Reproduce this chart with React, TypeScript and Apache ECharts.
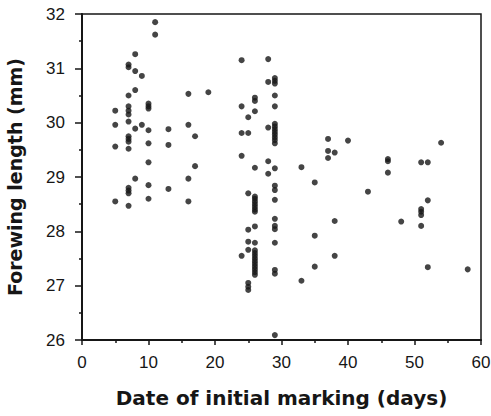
import React, { useEffect, useRef } from "react";
import * as echarts from "echarts";

const days: number[] = [
  5, 5, 5, 5,
  7, 7, 7, 7, 7, 7, 7, 7, 7, 7, 7, 7, 7, 7, 7,
  8, 8, 8, 8, 8,
  9, 9,
  10, 10, 10, 10, 10, 10, 10, 10,
  11, 11,
  13, 13, 13,
  16, 16, 16, 16,
  17, 17,
  19,
  24, 24, 24, 24, 24,
  25, 25, 25, 25, 25, 25, 25, 25, 25,
  26, 26, 26, 26, 26, 26, 26, 26, 26, 26, 26, 26, 26, 26, 26, 26, 26, 26, 26, 26, 26, 26, 26,
  28, 28, 28, 28, 28,
  29, 29, 29, 29, 29, 29, 29, 29, 29, 29, 29, 29, 29, 29, 29, 29, 29, 29, 29, 29, 29, 29, 29, 29,
  33, 33,
  35, 35, 35,
  37, 37, 37,
  38, 38, 38,
  40,
  43,
  46, 46, 46,
  48,
  51, 51, 51, 51, 51,
  52, 52, 52,
  54,
  58,
];

const lengths: number[] = [
  30.22, 29.96, 29.56, 28.55,
  31.07, 31.02, 30.5, 30.3, 30.22, 30.15, 30.02, 29.75, 29.7, 29.65, 29.52, 28.8, 28.75, 28.7, 28.47,
  31.26, 30.95, 30.6, 29.89, 28.97,
  30.86, 29.96,
  30.35, 30.3, 30.26, 29.86, 29.62, 29.27, 28.85, 28.6,
  31.85, 31.62,
  29.88, 29.59, 28.78,
  30.53, 29.96, 28.97, 28.55,
  29.75, 29.2,
  30.56,
  31.15, 30.3, 29.81, 29.39, 27.55,
  30.1, 29.81, 28.7, 28.03, 27.81, 27.66, 27.05, 26.98, 26.92,
  30.46, 30.4, 30.21, 29.17, 28.64, 28.6, 28.55, 28.5, 28.45, 28.4, 28.36, 28.09, 27.79, 27.65, 27.6, 27.55, 27.5, 27.45, 27.4, 27.35, 27.3, 27.25, 27.2,
  31.17, 30.75, 29.91, 29.29, 29.06,
  30.82, 30.77, 30.72, 30.5, 30.3, 29.98, 29.93, 29.88, 29.83, 29.78, 29.73, 29.68, 29.62, 29.16, 28.84, 28.76, 28.58, 28.23, 28.1, 28.04, 27.79, 27.29, 27.22, 26.09,
  29.18, 27.09,
  28.9, 27.92, 27.35,
  29.7, 29.48, 29.35,
  29.45, 28.19, 27.55,
  29.67,
  28.73,
  29.33, 29.29, 29.08,
  28.18,
  29.27, 28.41, 28.36, 28.3, 28.1,
  29.27, 28.57, 27.34,
  29.63,
  27.3,
];

const xTitle = "Date of initial marking (days)";
const yTitle = "Forewing length (mm)";
const xRange = [0, 60];
const yRange = [26, 32];

export default function App() {
  const ref = useRef<HTMLDivElement>(null);
  useEffect(() => {
    if (!ref.current) return;
    const chart = echarts.init(ref.current, null, { renderer: "svg" });
    const ink = "#161616";
    const data = days.map((d, i) => [d, lengths[i]]);
    chart.setOption({
      animation: false,
      backgroundColor: "#ffffff",
      grid: {
        left: 82,
        right: 10,
        top: 14,
        bottom: 76,
        containLabel: false,
        outerBoundsMode: "none",
        show: true,
        borderColor: ink,
        borderWidth: 1.5,
        backgroundColor: "transparent",
      },
      xAxis: {
        type: "value",
        min: xRange[0],
        max: xRange[1],
        interval: 10,
        name: xTitle,
        nameLocation: "middle",
        nameGap: 48,
        nameTextStyle: {
          fontFamily: "DejaVu Sans",
          fontWeight: "bold",
          fontSize: 20,
          color: ink,
        },
        axisLine: { show: true, onZero: false, lineStyle: { color: ink, width: 2 } },
        axisTick: { show: true, length: 5, lineStyle: { color: ink, width: 1.5 } },
        minorTick: { show: true, splitNumber: 2, length: 3, lineStyle: { color: ink, width: 1.5 } },
        splitLine: { show: false },
        axisLabel: {
          fontFamily: "Liberation Sans",
          fontSize: 17,
          color: ink,
          margin: 14,
        },
      },
      yAxis: {
        type: "value",
        min: yRange[0],
        max: yRange[1],
        interval: 1,
        name: yTitle,
        nameLocation: "middle",
        nameGap: 58,
        nameTextStyle: {
          fontFamily: "DejaVu Sans",
          fontWeight: "bold",
          fontSize: 19,
          color: ink,
        },
        axisLine: { show: true, onZero: false, lineStyle: { color: ink, width: 2 } },
        axisTick: { show: true, length: 7, lineStyle: { color: ink, width: 1.5 } },
        minorTick: { show: true, splitNumber: 2, length: 3, lineStyle: { color: ink, width: 1.5 } },
        splitLine: { show: false },
        axisLabel: {
          fontFamily: "Liberation Sans",
          fontSize: 17,
          color: ink,
          margin: 17,
        },
      },
      series: [
        {
          type: "scatter",
          data,
          symbol: "circle",
          symbolSize: 6,
          itemStyle: { color: ink },
        },
      ],
    });
    return () => chart.dispose();
  }, []);
  return (
    <div
      ref={ref}
      style={{ position: "fixed", left: 0, top: 0, width: 491, height: 416 }}
    />
  );
}
